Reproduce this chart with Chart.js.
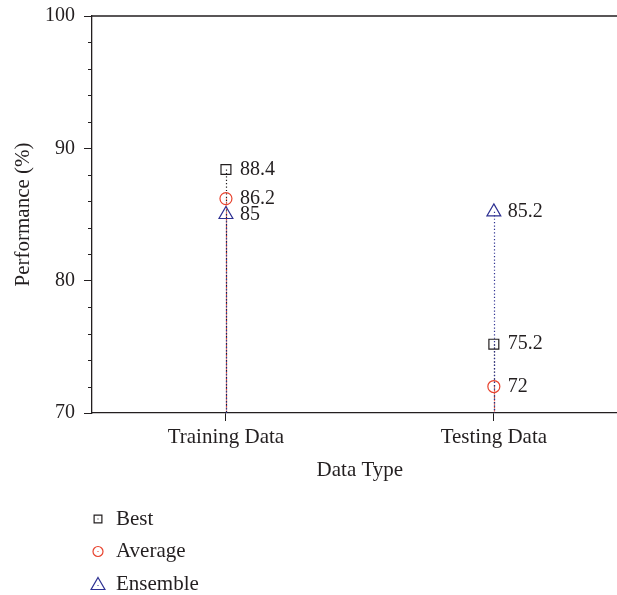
<!DOCTYPE html>
<html>
<head>
<meta charset="utf-8">
<script src="https://cdn.jsdelivr.net/npm/chart.js"></script>
<style>
    html, body { margin: 0; padding: 0; background: #fff; overflow: hidden; }
    #wrap { width: 637px; height: 595px; }
</style>
</head>
<body>
<div id="wrap"><canvas id="chart"></canvas></div>
<script>
// --- Data ---
const categories = ['Training Data', 'Testing Data'];
const bestValues = [88.4, 75.2];
const averageValues = [86.2, 72];
const ensembleValues = [85, 85.2];
const yMajorTicks = [70, 80, 90, 100];

const INK = '#231f20';
const FONT = "'Liberation Serif', 'Times New Roman', serif";

const seriesStyles = [
    { label: 'Best', data: bestValues, color: INK, pointStyle: 'rect', radius: 7, legendRadius: 5.5 },
    { label: 'Average', data: averageValues, color: '#e8432e', pointStyle: 'circle', radius: 6, legendRadius: 5 },
    { label: 'Ensemble', data: ensembleValues, color: '#2e3192', pointStyle: 'triangle', radius: 8, legendRadius: 8 }
];

// dotted drop lines from each marker to the x axis
const dropLines = {
    id: 'dropLines',
    beforeDatasetsDraw(chart) {
        const ctx = chart.ctx;
        const bottom = chart.chartArea.bottom;
        ctx.save();
        ctx.lineWidth = 1.2;
        ctx.setLineDash([1.2, 2.2]);
        chart.data.datasets.forEach((ds, i) => {
            const meta = chart.getDatasetMeta(i);
            ctx.strokeStyle = ds.borderColor;
            meta.data.forEach(pt => {
                ctx.beginPath();
                ctx.moveTo(Math.round(pt.x) + 0.5, pt.y);
                ctx.lineTo(Math.round(pt.x) + 0.5, bottom);
                ctx.stroke();
            });
        });
        ctx.restore();
    }
};

// value labels to the right of markers
const valueLabels = {
    id: 'valueLabels',
    afterDatasetsDraw(chart) {
        const ctx = chart.ctx;
        ctx.save();
        ctx.font = '20px ' + FONT;
        ctx.fillStyle = INK;
        ctx.textAlign = 'left';
        ctx.textBaseline = 'middle';
        chart.data.datasets.forEach((ds, i) => {
            const meta = chart.getDatasetMeta(i);
            meta.data.forEach((pt, j) => {
                ctx.fillText(String(ds.data[j]), pt.x + 14, pt.y);
            });
        });
        ctx.restore();
    }
};

// box top/right edges and minor y ticks
const frameAndMinor = {
    id: 'frameAndMinor',
    afterDraw(chart) {
        const ctx = chart.ctx;
        const a = chart.chartArea;
        const y = chart.scales.y;
        ctx.save();
        ctx.strokeStyle = INK;
        ctx.lineWidth = 1.3;
        ctx.beginPath();
        ctx.moveTo(a.left, a.top);
        ctx.lineTo(a.right, a.top);
        ctx.lineTo(a.right, a.bottom);
        ctx.stroke();
        ctx.lineWidth = 1;
        for (let v = y.min; v <= y.max; v += 2) {
            if (v % 10 === 0) continue;
            const py = Math.round(y.getPixelForValue(v)) + 0.5;
            ctx.beginPath();
            ctx.moveTo(a.left - 4, py);
            ctx.lineTo(a.left, py);
            ctx.stroke();
        }
        ctx.restore();
    }
};

function drawMarker(ctx, style, r, x, y) {
    ctx.beginPath();
    if (style === 'rect') {
        const s = r * Math.SQRT1_2;
        ctx.rect(x - s, y - s, 2 * s, 2 * s);
    } else if (style === 'circle') {
        ctx.arc(x, y, r, 0, Math.PI * 2);
    } else {
        ctx.moveTo(x, y - r);
        ctx.lineTo(x + 0.866 * r, y + 0.5 * r);
        ctx.lineTo(x - 0.866 * r, y + 0.5 * r);
        ctx.closePath();
    }
    ctx.stroke();
    ctx.fillRect(x - 0.5, y - 0.5, 1, 1);
}

// vertical legend under the axis title
const columnLegend = {
    id: 'columnLegend',
    afterDraw(chart) {
        const ctx = chart.ctx;
        const baseY = chart.chartArea.bottom + 106;
        ctx.save();
        ctx.font = '21px ' + FONT;
        ctx.textAlign = 'left';
        ctx.textBaseline = 'middle';
        chart.data.datasets.forEach((ds, i) => {
            const s = seriesStyles[i];
            const ly = baseY + i * 32.5;
            ctx.strokeStyle = ds.borderColor;
            ctx.fillStyle = ds.borderColor;
            ctx.lineWidth = 1.2;
            drawMarker(ctx, s.pointStyle, s.legendRadius, 98, ly + (s.pointStyle === 'triangle' ? 1.5 : 0));
            ctx.fillStyle = INK;
            ctx.fillText(ds.label, 116, ly);
        });
        ctx.restore();
    }
};

const ctx = document.getElementById('chart').getContext('2d');
new Chart(ctx, {
    type: 'line',
    data: {
        labels: categories,
        datasets: seriesStyles.map(s => ({
            label: s.label,
            data: s.data,
            showLine: false,
            borderColor: s.color,
            backgroundColor: 'rgba(0,0,0,0)',
            pointStyle: s.pointStyle,
            pointRadius: s.radius,
            pointHoverRadius: s.radius,
            pointBorderWidth: 1.2,
            pointBorderColor: s.color,
            pointBackgroundColor: 'rgba(0,0,0,0)'
        }))
    },
    options: {
        responsive: true,
        maintainAspectRatio: false,
        animation: false,
        layout: { padding: { left: 0, top: 16, right: 3, bottom: 108 } },
        plugins: {
            legend: { display: false },
            tooltip: { enabled: false }
        },
        scales: {
            x: {
                type: 'category',
                offset: true,
                afterFit: scale => { scale.height = 74; },
                grid: { drawOnChartArea: false, drawTicks: true, tickLength: 8, offset: false, color: INK },
                border: { color: INK, width: 1.3 },
                ticks: { color: INK, font: { family: FONT, size: 21 }, padding: 4, maxRotation: 0 },
                title: { display: true, text: 'Data Type', color: INK, font: { family: FONT, size: 21 }, padding: { top: 4, bottom: 4 } }
            },
            y: {
                min: 70,
                max: 100,
                afterFit: scale => { scale.width = 92; },
                afterBuildTicks: scale => { scale.ticks = yMajorTicks.map(v => ({ value: v })); },
                grid: { drawOnChartArea: false, drawTicks: true, tickLength: 8, color: INK },
                border: { color: INK, width: 1.3 },
                ticks: { color: INK, font: { family: FONT, size: 20, lineHeight: 0.6 }, padding: 9 },
                title: { display: true, text: 'Performance (%)', color: INK, font: { family: FONT, size: 21 }, padding: { top: 11, bottom: 4 } }
            }
        }
    },
    plugins: [dropLines, valueLabels, frameAndMinor, columnLegend]
});
</script>
</body>
</html>
